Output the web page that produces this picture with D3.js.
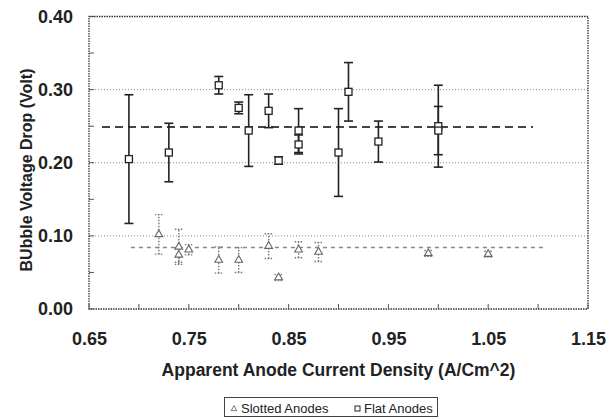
<!DOCTYPE html>
<html><head><meta charset="utf-8">
<script src="https://cdn.jsdelivr.net/npm/d3@7"></script>
<style>body{margin:0;background:#fff}svg{display:block}text{font-family:"Liberation Sans",Arial,sans-serif}</style>
</head><body><svg id="c" width="606" height="417"></svg>
<script>
const flatX = [0.69, 0.73, 0.78, 0.80, 0.81, 0.83, 0.84, 0.86, 0.86, 0.90, 0.91, 0.94, 1.00, 1.00];
const flatY = [0.205, 0.214, 0.306, 0.275, 0.244, 0.271, 0.203, 0.244, 0.225, 0.214, 0.297, 0.229, 0.250, 0.244];
const flatErr = [0.088, 0.040, 0.012, 0.008, 0.049, 0.023, 0.005, 0.030, 0.013, 0.060, 0.040, 0.028, 0.056, 0.033];
const slotX = [0.72, 0.74, 0.74, 0.75, 0.78, 0.80, 0.83, 0.84, 0.86, 0.88, 0.99, 1.05];
const slotY = [0.102, 0.085, 0.074, 0.081, 0.067, 0.067, 0.086, 0.043, 0.081, 0.078, 0.076, 0.075];
const slotErr = [0.027, 0.024, 0.010, 0.007, 0.018, 0.017, 0.017, 0.004, 0.011, 0.013, 0.004, 0.004];
const flatMean = [0.663, 1.095, 0.249];
const slotMean = [0.692, 1.105, 0.084];
const xTicks = [0.65, 0.75, 0.85, 0.95, 1.05, 1.15];
const yTicks = [0.00, 0.10, 0.20, 0.30, 0.40];
const gridVals = [0.10, 0.20, 0.30];
const seriesNames = ["Slotted Anodes", "Flat Anodes"];

const svg = d3.select("#c");
const L = 89, R = 588, T = 16.5, B = 309;
const x = d3.scaleLinear().domain([0.65, 1.15]).range([L, R]);
const y = d3.scaleLinear().domain([0, 0.40]).range([B, T]);

// gridlines
svg.append("g").selectAll("line").data(gridVals).join("line")
  .attr("x1", L).attr("x2", R).attr("y1", d => y(d)).attr("y2", d => y(d))
  .attr("stroke", "#888").attr("stroke-width", 1).attr("stroke-dasharray", "1,2");

// frame
svg.append("rect").attr("x", L).attr("y", T).attr("width", R - L).attr("height", B - T)
  .attr("fill", "none").attr("stroke", "#333").attr("stroke-width", 1.3).attr("stroke-dasharray", "1.5,1");

// inward ticks
const yMinor = d3.range(0, 0.401, 0.05);
svg.append("g").selectAll("line").data(yMinor).join("line")
  .attr("x1", L).attr("x2", L + 5).attr("y1", d => y(d)).attr("y2", d => y(d))
  .attr("stroke", "#555").attr("stroke-width", 1);
const xMinor = d3.range(0.65, 1.151, 0.05);
svg.append("g").selectAll("line").data(xMinor).join("line")
  .attr("x1", d => x(d)).attr("x2", d => x(d)).attr("y1", B).attr("y2", B - 5)
  .attr("stroke", "#555").attr("stroke-width", 1);

// tick labels via axes
const xAxis = svg.append("g").attr("transform", `translate(0,${B})`)
  .call(d3.axisBottom(x).tickValues(xTicks).tickFormat(d3.format(".2f")).tickSize(0).tickPadding(23));
xAxis.select(".domain").remove();
xAxis.selectAll("text").attr("font-size", 18).attr("font-weight", "bold").attr("fill", "#222")
  .attr("font-family", "Liberation Sans, Arial, sans-serif");
const yAxis = svg.append("g").attr("transform", `translate(${L},0)`)
  .call(d3.axisLeft(y).tickValues(yTicks).tickFormat(d3.format(".2f")).tickSize(0).tickPadding(16));
yAxis.select(".domain").remove();
yAxis.selectAll("text").attr("font-size", 18).attr("font-weight", "bold").attr("fill", "#222")
  .attr("font-family", "Liberation Sans, Arial, sans-serif");

// titles
svg.append("text").attr("x", (L + R) / 2).attr("y", 376).attr("text-anchor", "middle")
  .attr("font-size", 17.5).attr("font-weight", "bold").attr("fill", "#222")
  .text("Apparent Anode Current Density (A/Cm^2)");
svg.append("text").attr("transform", `translate(32,170) rotate(-90)`).attr("text-anchor", "middle")
  .attr("font-size", 16).attr("font-weight", "bold").attr("fill", "#222")
  .text("BUbble Voltage Drop (Volt)");

// mean lines
svg.append("line").attr("x1", x(flatMean[0])).attr("x2", x(flatMean[1]))
  .attr("y1", y(flatMean[2])).attr("y2", y(flatMean[2]))
  .attr("stroke", "#444").attr("stroke-width", 2).attr("stroke-dasharray", "8,5");
svg.append("line").attr("x1", x(slotMean[0])).attr("x2", x(slotMean[1]))
  .attr("y1", y(slotMean[2])).attr("y2", y(slotMean[2]))
  .attr("stroke", "#888").attr("stroke-width", 1.5).attr("stroke-dasharray", "4,4");

// slotted error bars
const slot = slotX.map((v, i) => ({x: v, y: slotY[i], e: slotErr[i]}));
const sg = svg.append("g").attr("stroke", "#777").attr("stroke-width", 1.4).attr("stroke-dasharray", "1.5,1.5");
sg.selectAll(".v").data(slot).join("line")
  .attr("x1", d => x(d.x)).attr("x2", d => x(d.x)).attr("y1", d => y(d.y - d.e)).attr("y2", d => y(d.y + d.e));
sg.selectAll(".t").data(slot).join("line")
  .attr("x1", d => x(d.x) - 4).attr("x2", d => x(d.x) + 4).attr("y1", d => y(d.y + d.e)).attr("y2", d => y(d.y + d.e));
sg.selectAll(".b").data(slot).join("line")
  .attr("x1", d => x(d.x) - 4).attr("x2", d => x(d.x) + 4).attr("y1", d => y(d.y - d.e)).attr("y2", d => y(d.y - d.e));
const tri = d3.symbol().type(d3.symbolTriangle).size(26);
svg.append("g").selectAll("path").data(slot).join("path")
  .attr("d", tri).attr("transform", d => `translate(${x(d.x)},${y(d.y)})`)
  .attr("fill", "#fff").attr("stroke", "#666").attr("stroke-width", 1.1);

// flat error bars
const flat = flatX.map((v, i) => ({x: v, y: flatY[i], e: flatErr[i]}));
const fg = svg.append("g").attr("stroke", "#222").attr("stroke-width", 1.6);
fg.selectAll(".v").data(flat).join("line")
  .attr("x1", d => x(d.x)).attr("x2", d => x(d.x)).attr("y1", d => y(d.y - d.e)).attr("y2", d => y(d.y + d.e));
fg.selectAll(".t").data(flat).join("line")
  .attr("x1", d => x(d.x) - 4.5).attr("x2", d => x(d.x) + 4.5).attr("y1", d => y(d.y + d.e)).attr("y2", d => y(d.y + d.e));
fg.selectAll(".b").data(flat).join("line")
  .attr("x1", d => x(d.x) - 4.5).attr("x2", d => x(d.x) + 4.5).attr("y1", d => y(d.y - d.e)).attr("y2", d => y(d.y - d.e));
svg.append("g").selectAll("rect").data(flat).join("rect")
  .attr("x", d => x(d.x) - 3.5).attr("y", d => y(d.y) - 3.5).attr("width", 7).attr("height", 7)
  .attr("fill", "#fff").attr("stroke", "#222").attr("stroke-width", 1.3);

// legend
const lg = svg.append("g");
lg.append("rect").attr("x", 224.5).attr("y", 397.5).attr("width", 213).attr("height", 19)
  .attr("fill", "#fff").attr("stroke", "#444").attr("stroke-width", 1);
lg.append("path").attr("d", d3.symbol().type(d3.symbolTriangle).size(14)).attr("transform", "translate(234,409)")
  .attr("fill", "#fff").attr("stroke", "#777").attr("stroke-width", 1);
lg.append("text").attr("x", 241).attr("y", 413).attr("font-size", 13).attr("fill", "#222").text(seriesNames[0]);
lg.append("rect").attr("x", 355).attr("y", 406).attr("width", 5).attr("height", 5)
  .attr("fill", "#fff").attr("stroke", "#222").attr("stroke-width", 1);
lg.append("text").attr("x", 364).attr("y", 413).attr("font-size", 13).attr("fill", "#222").text(seriesNames[1]);
</script></body></html>
